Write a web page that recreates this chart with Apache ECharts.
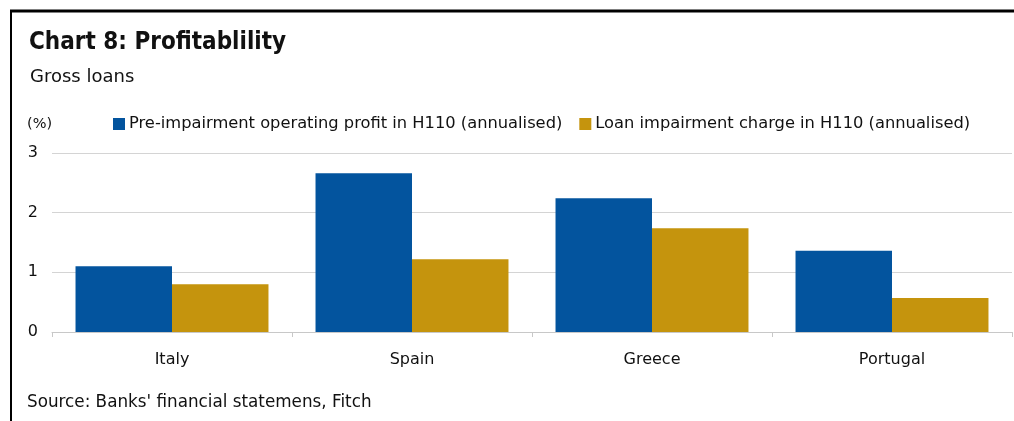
<!DOCTYPE html>
<html><head><meta charset="utf-8">
<script src="https://cdn.jsdelivr.net/npm/echarts@6/dist/echarts.min.js"></script>
<style>html,body{margin:0;padding:0;background:#fff}#c{width:1014px;height:421px}</style>
</head><body><div id="c"></div>
<script>
const categories = ['Italy', 'Spain', 'Greece', 'Portugal'];
const preImpairmentProfit = [1.1, 2.66, 2.24, 1.36];
const loanImpairmentCharge = [0.8, 1.22, 1.74, 0.57];
const seriesNames = ['Pre-impairment operating profit in H110 (annualised)', 'Loan impairment charge in H110 (annualised)'];
const yTicks = [0, 1, 2, 3];

const FC = '"DejaVu Sans Condensed", "Noto Sans", sans-serif';
const F = '"DejaVu Sans", "Noto Sans", sans-serif';
const chart = echarts.init(document.getElementById('c'));
chart.setOption({
  animation: false,
  backgroundColor: '#fff',
  title: [
    { text: 'Chart 8: Profitablility', left: 24, top: 26, textStyle: { fontFamily: FC, fontSize: 24, fontWeight: 'bold', color: '#111' } },
    { text: 'Gross loans', left: 25, top: 63, textStyle: { fontFamily: F, fontSize: 18, fontWeight: 'normal', color: '#111' } },
    { text: '(%)', left: 22, top: 112, textStyle: { fontFamily: F, fontSize: 14.5, fontWeight: 'normal', color: '#111' } },
    { text: "Source: Banks' financial statemens, Fitch", left: 22, top: 389, textStyle: { fontFamily: F, fontSize: 16.8, fontWeight: 'normal', color: '#111' } }
  ],
  graphic: [
    { type: 'line', shape: { x1: 10, y1: 11, x2: 1014, y2: 11 }, style: { stroke: '#000', lineWidth: 3 } },
    { type: 'line', shape: { x1: 11, y1: 10, x2: 11, y2: 421 }, style: { stroke: '#000', lineWidth: 2 } }
  ],
  legend: {
    data: seriesNames, left: 113, top: 116, padding: 0, itemWidth: 12, itemHeight: 12, itemGap: 17,
    icon: 'rect',
    textStyle: { fontFamily: F, fontSize: 16.3, color: '#111', padding: [0, 0, 0, -1] }
  },
  grid: { left: 52, right: 2, top: 153, bottom: 89 },
  xAxis: {
    type: 'category', data: categories,
    axisLine: { lineStyle: { color: '#c8c8c8', width: 1 } },
    axisTick: { show: true, length: 5, lineStyle: { color: '#c8c8c8' } },
    axisLabel: { fontFamily: F, fontSize: 16, color: '#111', margin: 20 }
  },
  yAxis: {
    type: 'value', min: 0, max: 3, interval: 1,
    axisLine: { show: false }, axisTick: { show: false },
    axisLabel: { fontFamily: F, fontSize: 16, color: '#111', margin: 14, formatter: v => yTicks.includes(v) ? String(v) : '' },
    splitLine: { lineStyle: { color: '#d4d4d4', width: 1 } }
  },
  series: [
    { name: seriesNames[0], type: 'bar', data: preImpairmentProfit, itemStyle: { color: '#03549E' }, barGap: '0%', barCategoryGap: '19.6%' },
    { name: seriesNames[1], type: 'bar', data: loanImpairmentCharge, itemStyle: { color: '#C5940D' }, barGap: '0%', barCategoryGap: '19.6%' }
  ]
});
</script></body></html>
